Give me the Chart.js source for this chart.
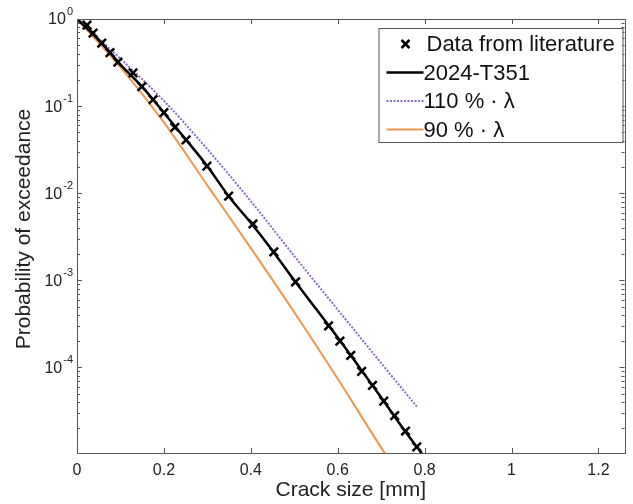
<!DOCTYPE html>
<html>
<head>
<meta charset="utf-8">
<script src="https://cdn.jsdelivr.net/npm/chart.js@4.4.0/dist/chart.umd.min.js"></script>
<style>
  html, body { margin: 0; padding: 0; background: #fff; }
  #wrap { width: 633px; height: 504px; }
</style>
</head>
<body>
<div id="wrap"><canvas id="myChart" width="633" height="504"></canvas></div>
<script>
// data
var litX = [0, 0.023, 0.037, 0.057, 0.076, 0.094, 0.129, 0.149, 0.175, 0.200, 0.225, 0.251, 0.299,
  0.349, 0.405, 0.453, 0.503, 0.579, 0.605, 0.630, 0.655, 0.680, 0.706, 0.731, 0.756, 0.782];
var litY = [1, 0.85, 0.69, 0.53, 0.41, 0.32, 0.24, 0.167, 0.119, 0.084, 0.057, 0.041, 0.0204,
  0.00925, 0.00443, 0.00212, 9.6e-4, 3.0e-4, 2.0e-4, 1.37e-4, 9.0e-5, 6.2e-5, 4.1e-5, 2.8e-5, 1.86e-5, 1.22e-5];

var modelX = [0, 0.05, 0.1, 0.15, 0.2, 0.25, 0.3, 0.35, 0.4, 0.45, 0.5, 0.55, 0.6, 0.65, 0.7, 0.75, 0.8];
var modelY = [1, 0.575, 0.30, 0.166, 0.084, 0.0417, 0.0204, 0.0091, 0.00457, 0.00219, 1.0e-3,
  4.7e-4, 2.2e-4, 1.0e-4, 4.5e-5, 2.0e-5, 9.3e-6];

var hiX = [0, 0.1, 0.2, 0.3, 0.4, 0.5, 0.6, 0.7, 0.782];
var hiY = [1, 0.35, 0.115, 0.032, 0.0081, 0.0019, 4.6e-4, 1.12e-4, 3.55e-5];

var loX = [0, 0.1, 0.2, 0.3, 0.4, 0.5, 0.6, 0.7, 0.72];
var loY = [1, 0.28, 0.065, 0.0123, 0.00234, 4.3e-4, 7.4e-5, 1.2e-5, 8.5e-6];

var xTicks = [0, 0.2, 0.4, 0.6, 0.8, 1, 1.2];
var yExps = [0, -1, -2, -3, -4];
var legendLabels = ["Data from literature", "2024-T351", "110 % \u00b7 \u03bb", "90 % \u00b7 \u03bb"];
var yTitle = "Probability of exceedance";

var FONT = "'Liberation Sans', Arial, Helvetica, sans-serif";

function pts(xs, ys) {
  return xs.map(function(v, i) { return { x: v, y: ys[i] }; });
}

// box, inward ticks and log tick labels like the original plot
var framePlugin = {
  id: 'frame',
  afterDraw: function(chart) {
    var ctx = chart.ctx, a = chart.chartArea;
    var xs = chart.scales.x, ys = chart.scales.y;
    ctx.save();
    ctx.strokeStyle = '#555';
    ctx.lineWidth = 1;
    ctx.strokeRect(Math.round(a.left) + 0.5, Math.round(a.top) + 0.5,
      Math.round(a.right - a.left), Math.round(a.bottom - a.top));
    ctx.beginPath();
    xTicks.forEach(function(v) {
      var px = Math.round(xs.getPixelForValue(v)) + 0.5;
      ctx.moveTo(px, a.bottom); ctx.lineTo(px, a.bottom - 5);
      ctx.moveTo(px, a.top); ctx.lineTo(px, a.top + 5);
    });
    for (var k = -5; k <= 0; k++) {
      for (var m = 1; m <= 9; m++) {
        var v = m * Math.pow(10, k);
        if (v < ys.min || v > ys.max) continue;
        var py = Math.round(ys.getPixelForValue(v)) + 0.5;
        var len = m === 1 ? 5 : 3;
        ctx.moveTo(a.left, py); ctx.lineTo(a.left + len, py);
        ctx.moveTo(a.right, py); ctx.lineTo(a.right - len, py);
      }
    }
    ctx.stroke();

    ctx.fillStyle = '#222';
    ctx.textBaseline = 'middle';
    yExps.forEach(function(e) {
      var py = ys.getPixelForValue(Math.pow(10, e));
      var ex = String(e);
      ctx.font = '11px ' + FONT;
      var ew = ctx.measureText(ex).width;
      ctx.textAlign = 'left';
      ctx.fillText(ex, a.left - 4 - ew, py - 7);
      ctx.font = '16px ' + FONT;
      ctx.textAlign = 'right';
      ctx.fillText('10', a.left - 5 - ew, py + 1);
    });

    // y axis title, sits a little above the axis centre in the original
    ctx.translate(24, (a.top + a.bottom) / 2 - 7);
    ctx.rotate(-Math.PI / 2);
    ctx.textAlign = 'center';
    ctx.font = '21px ' + FONT;
    ctx.fillText(yTitle, 0, 0);
    ctx.restore();
  }
};

// legend box in the upper right corner
var legendPlugin = {
  id: 'boxLegend',
  afterDraw: function(chart) {
    var ctx = chart.ctx, a = chart.chartArea;
    var ds = chart.data.datasets;
    var bx = a.right - 246, by = a.top + 9, bw = 244, bh = 114;
    ctx.save();
    ctx.fillStyle = '#fff';
    ctx.fillRect(bx, by, bw, bh);
    ctx.strokeStyle = '#555';
    ctx.lineWidth = 1;
    ctx.strokeRect(bx + 0.5, by + 0.5, bw, bh);
    ctx.font = '22px ' + FONT;
    ctx.textBaseline = 'middle';
    ctx.textAlign = 'left';
    for (var i = 0; i < ds.length; i++) {
      var cy = by + 16 + i * 28.5;
      if (i === 0) {
        var cx = bx + 27;
        ctx.strokeStyle = '#000';
        ctx.lineWidth = 2.5;
        ctx.beginPath();
        ctx.moveTo(cx - 4, cy - 4); ctx.lineTo(cx + 4, cy + 4);
        ctx.moveTo(cx + 4, cy - 4); ctx.lineTo(cx - 4, cy + 4);
        ctx.stroke();
        ctx.fillStyle = '#111';
        ctx.fillText(legendLabels[i], bx + 48, cy + 1);
      } else {
        ctx.strokeStyle = ds[i].borderColor;
        ctx.lineWidth = ds[i].borderWidth;
        ctx.setLineDash(ds[i].borderDash || []);
        ctx.beginPath();
        ctx.moveTo(bx + 8, cy); ctx.lineTo(bx + 45, cy);
        ctx.stroke();
        ctx.setLineDash([]);
        ctx.fillStyle = '#111';
        ctx.fillText(legendLabels[i], bx + 45, cy + 1);
      }
    }
    ctx.restore();
  }
};

var ctx = document.getElementById('myChart').getContext('2d');
var myChart = new Chart(ctx, {
  type: 'line',
  data: {
    datasets: [
      { label: legendLabels[0], data: pts(litX, litY), showLine: false,
        pointStyle: 'crossRot', pointRadius: 6, pointBorderWidth: 2.5,
        borderColor: '#000', backgroundColor: '#000' },
      { label: legendLabels[1], data: pts(modelX, modelY), borderColor: '#000',
        borderWidth: 2.5, pointRadius: 0, cubicInterpolationMode: 'monotone' },
      { label: legendLabels[2], data: pts(hiX, hiY), borderColor: '#8a6cc0',
        borderWidth: 2, borderDash: [2, 1.5], pointRadius: 0, cubicInterpolationMode: 'monotone' },
      { label: legendLabels[3], data: pts(loX, loY), borderColor: '#f0974f',
        borderWidth: 2, pointRadius: 0, cubicInterpolationMode: 'monotone' }
    ]
  },
  options: {
    responsive: false,
    animation: false,
    layout: { padding: { left: 0, right: 8, top: 19, bottom: 0 } },
    plugins: { legend: { display: false }, tooltip: { enabled: false } },
    scales: {
      x: {
        type: 'linear', min: 0, max: 1.26,
        afterFit: function(s) { s.height = 51; },
        afterBuildTicks: function(s) { s.ticks = xTicks.map(function(v) { return { value: v }; }); },
        grid: { display: false }, border: { display: false },
        ticks: { color: '#222', padding: 0, font: { family: FONT, size: 16 },
          callback: function(v) { return String(v); } },
        title: { display: true, text: 'Crack size [mm]', color: '#222',
          font: { family: FONT, size: 21 }, padding: { top: 0, bottom: 1 } }
      },
      y: {
        type: 'logarithmic', min: 1.04e-5, max: 1,
        afterFit: function(s) { s.width = 77; },
        grid: { display: false }, border: { display: false },
        ticks: { display: false },
        title: { display: false }
      }
    }
  },
  plugins: [framePlugin, legendPlugin]
});
</script>
</body>
</html>
